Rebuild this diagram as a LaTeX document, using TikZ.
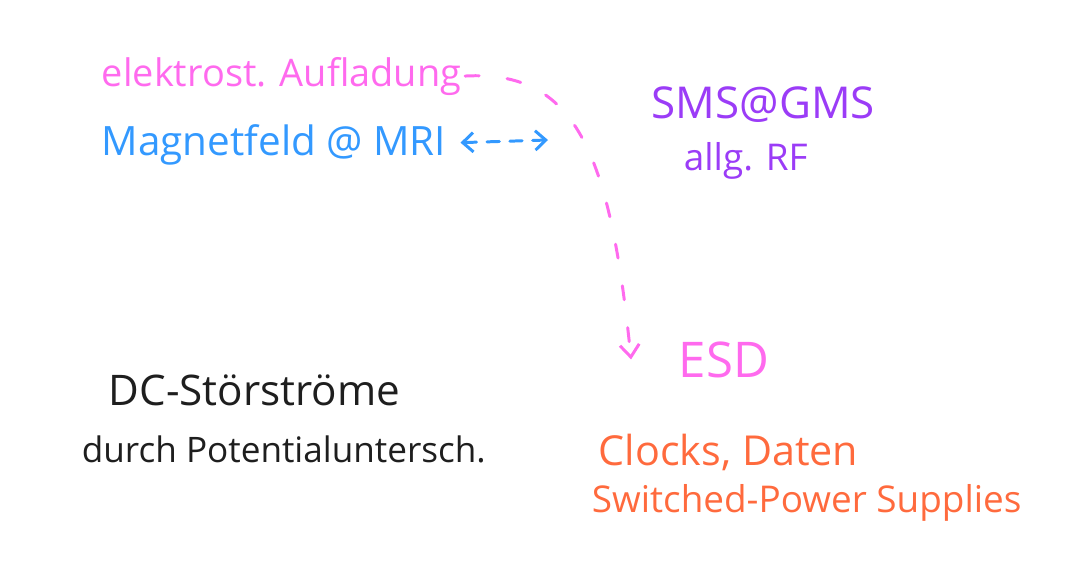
\documentclass[tikz,border=0pt]{standalone}
\usepackage{fontspec}
\setmainfont{Open Sans}
\usepackage{tikz}
\usetikzlibrary{arrows.meta,positioning}
\definecolor{noteBlack}{HTML}{1E1E1E}
\definecolor{notePink}{HTML}{FF6AEE}
\definecolor{noteBlue}{HTML}{3399FF}
\definecolor{notePurple}{HTML}{9B3CF7}
\definecolor{noteOrange}{HTML}{FF6A3D}

\tikzset{
  note/.style={anchor=base west,inner sep=2pt,font=\fontsize{21}{25}\selectfont},
  bignote/.style={note,font=\fontsize{25}{30}\selectfont},
  sketch/.style={line width=1.7pt,line cap=round,line join=round}
}

\begin{document}
\begin{tikzpicture}[x=0.02cm,y=-0.02cm]
  \useasboundingbox (0,0) rectangle (1080,583);

  % upper left
  \node[note,text=notePink,font=\fontsize{21.6}{25}\selectfont] (auf) at (98,86) {elektrost. Aufladung};
  \node[note,text=noteBlue,font=\fontsize{23}{27}\selectfont] (mri) at (98,155) {Magnetfeld @ MRI};
  \coordinate (mriend) at (548,140);
  \draw[sketch,noteBlue,dash pattern=on 7pt off 6pt,
    {Straight Barb[length=6pt,width=11pt]}-{Straight Barb[length=6pt,width=11pt]}]
    ([xshift=6pt,yshift=1pt]mri.east) -- (mriend);

  % upper right
  \node[bignote,text=notePurple] (sms) at (648,118) {SMS@GMS};
  \node[note,text=notePurple] (rf) at (680,170) {allg. RF};

  % middle right
  \node[bignote,text=notePink,font=\fontsize{28}{32}\selectfont] (esd) at (675,377) {ESD};
  \coordinate (esdin) at ([xshift=-25pt]esd.west);
  \draw[sketch,notePink,dash pattern=on 8pt off 16pt,
    -{Straight Barb[length=7pt,width=11pt]}]
    (auf.east) .. controls (575,70) and (610,150) .. (esdin);

  % lower left
  \node[bignote,text=noteBlack,font=\fontsize{24}{28}\selectfont] (dc) at (105,405) {DC-Störströme};
  \node[note,text=noteBlack,font=\fontsize{20}{24}\selectfont] (pot) at (78,462) {durch Potentialuntersch.};

  % lower right
  \node[note,text=noteOrange,font=\fontsize{23.5}{27}\selectfont] (clk) at (595,465) {Clocks, Daten};
  \node[note,text=noteOrange] (smps) at (588,512) {Switched-Power Supplies};
\end{tikzpicture}
\end{document}
